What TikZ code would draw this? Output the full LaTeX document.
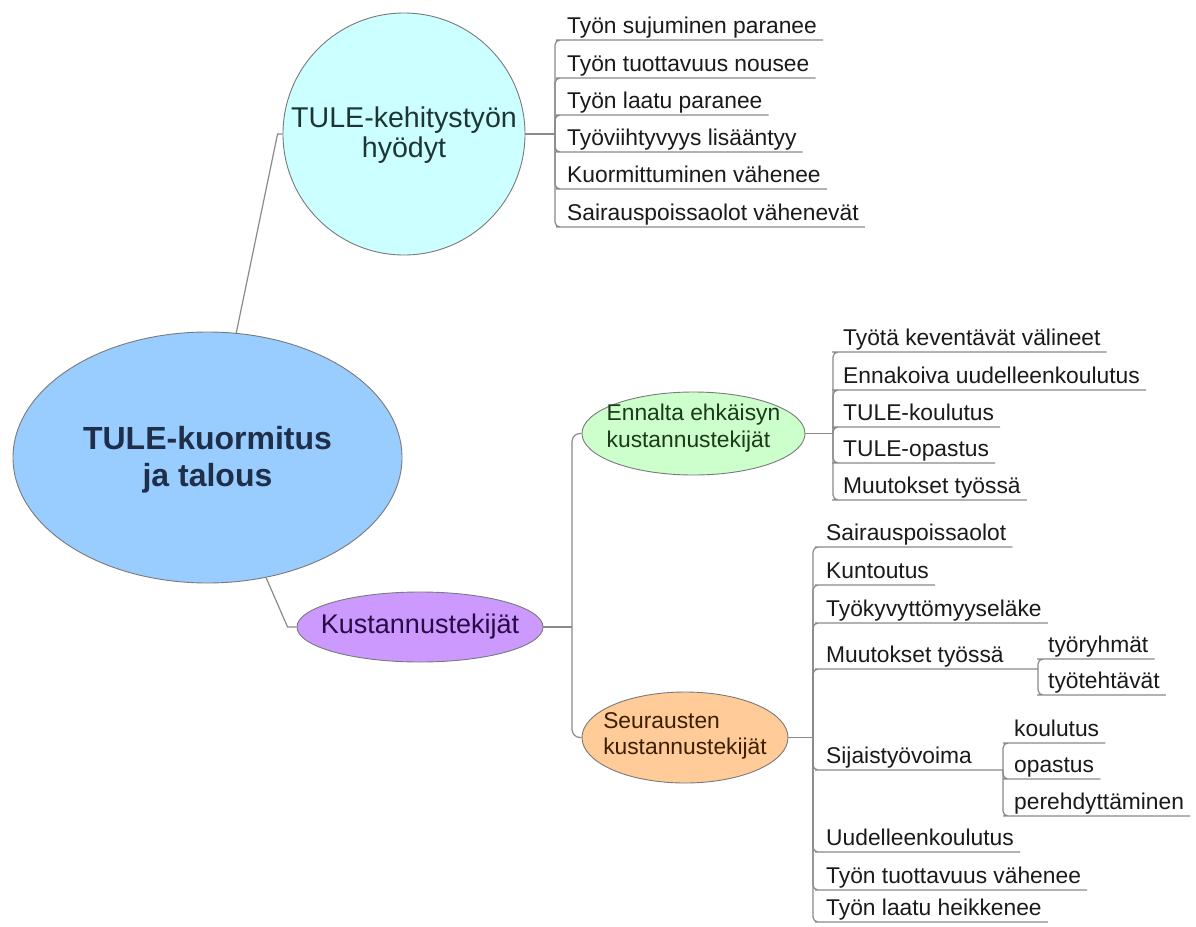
\documentclass[tikz,border=0pt]{standalone}
\usepackage{fontspec}
\setmainfont{Liberation Sans}
\usetikzlibrary{shapes.geometric}
\definecolor{lineg}{HTML}{8A8A8A}
\definecolor{bordg}{HTML}{7A7A7A}
\definecolor{mainfill}{HTML}{99CCFF}
\definecolor{maintext}{HTML}{1F2F4A}
\definecolor{circfill}{HTML}{CCFFFF}
\definecolor{circtext}{HTML}{1E3535}
\definecolor{kustfill}{HTML}{CC99FF}
\definecolor{kusttext}{HTML}{2A0A45}
\definecolor{ennfill}{HTML}{CCFFCC}
\definecolor{enntext}{HTML}{1A3A1A}
\definecolor{seufill}{HTML}{FFCC99}
\definecolor{seutext}{HTML}{3D1F00}
\definecolor{leaftext}{HTML}{1A1A1A}
\begin{document}
\begin{tikzpicture}[x=1pt,y=-1pt,
  conn/.style={draw=lineg, line width=1.2pt},
  bubble/.style={draw=bordg, line width=0.9pt, inner sep=0pt},
  leaf/.style={anchor=south west, inner xsep=6pt, inner ysep=0pt, text height=17pt, text depth=6.5pt, font=\fontsize{22.8}{26}\selectfont, text=leaftext}
]
\useasboundingbox (0,0) rectangle (1196,926);
\fill[white] (0,0) rectangle (1196,926);

% central bubbles
\node[bubble, ellipse, fill=mainfill, minimum width=389pt, minimum height=251pt,
  label={[name=mainlbl, align=center, yshift=-2pt, font=\bfseries\fontsize{32}{37}\selectfont, text=maintext]center:TULE-kuormitus\\ja talous}] (main) at (207.5,457.5) {};
\node[bubble, circle, fill=circfill, minimum size=242pt,
  label={[name=circlbl, align=center, yshift=-1pt, font=\fontsize{28.6}{30}\selectfont, text=circtext]center:TULE-kehitystyön\\hyödyt}] (circ) at (404,134) {};
\node[bubble, ellipse, fill=kustfill, minimum width=246pt, minimum height=70pt,
  label={[name=kustlbl, font=\fontsize{27}{30}\selectfont, text=kusttext]center:Kustannustekijät}] (kust) at (420,627) {};
\node[bubble, ellipse, fill=ennfill, minimum width=223pt, minimum height=83pt,
  label={[name=ennlbl, align=left, yshift=5pt, font=\fontsize{22.8}{27}\selectfont, text=enntext]center:Ennalta ehkäisyn\\kustannustekijät}] (enn) at (693.5,433.5) {};
\node[bubble, ellipse, fill=seufill, minimum width=206pt, minimum height=91pt,
  label={[name=seulbl, align=left, yshift=2pt, font=\fontsize{22.8}{26}\selectfont, text=seutext]center:Seurausten\\kustannustekijät}] (seu) at (685,737.5) {};

% main connectors
\draw[conn] (main.77) -- ([xshift=-5pt]circ.west) -- (circ.west);
\draw[conn] (main.-64) -- ([xshift=-9pt]kust.west) -- (kust.west);
\coordinate (k) at (572,627);
\draw[conn] (kust.east) -- (k);
\draw[conn, rounded corners=8pt] (k) |- (enn.west);
\draw[conn, rounded corners=8pt] (k) |- (seu.west);

% benefits
\coordinate (b1) at (555,134);
\draw[conn] (circ.east) -- (b1);
\node[leaf] (t1) at (561,40) {Työn sujuminen paranee};
\node[leaf] (t2) at (561,78) {Työn tuottavuus nousee};
\node[leaf] (t3) at (561,115) {Työn laatu paranee};
\node[leaf] (t4) at (561,152) {Työviihtyvyys lisääntyy};
\node[leaf] (t5) at (561,189) {Kuormittuminen vähenee};
\node[leaf] (t6) at (561,227) {Sairauspoissaolot vähenevät};
\foreach \n in {t1,t2,t3,t4,t5,t6}
  \draw[conn, rounded corners=5pt] (b1) |- (\n.south west) -- (\n.south east);

% prevention costs
\coordinate (b2) at (833,433.5);
\draw[conn] (enn.east) -- (b2);
\node[leaf] (e1) at (837,352) {Työtä keventävät välineet};
\node[leaf] (e2) at (837,390) {Ennakoiva uudelleenkoulutus};
\node[leaf] (e3) at (837,427) {TULE-koulutus};
\node[leaf] (e4) at (837,463) {TULE-opastus};
\node[leaf] (e5) at (837,500) {Muutokset työssä};
\foreach \n in {e1,e2,e3,e4,e5}
  \draw[conn, rounded corners=5pt] (b2) |- (\n.south west) -- (\n.south east);

% consequence costs
\coordinate (b3) at (813,737.5);
\draw[conn] (seu.east) -- (b3);
\node[leaf] (s1) at (820,547) {Sairauspoissaolot};
\node[leaf] (s2) at (820,585) {Kuntoutus};
\node[leaf] (s3) at (820,623) {Työkyvyttömyyseläke};
\node[leaf] (s4) at (820,669) {Muutokset työssä};
\node[leaf] (s5) at (820,770) {Sijaistyövoima};
\node[leaf] (s6) at (820,852) {Uudelleenkoulutus};
\node[leaf] (s7) at (820,890) {Työn tuottavuus vähenee};
\node[leaf] (s8) at (820,922) {Työn laatu heikkenee};
\foreach \n in {s1,s2,s3,s6,s7,s8}
  \draw[conn, rounded corners=5pt] (b3) |- (\n.south west) -- (\n.south east);

\coordinate (m4) at (1038,669);
\draw[conn, rounded corners=5pt] (b3) |- (s4.south west) -- (m4);
\node[leaf] (s4a) at (1042,659) {työryhmät};
\node[leaf] (s4b) at (1042,695) {työtehtävät};
\foreach \n in {s4a,s4b}
  \draw[conn, rounded corners=5pt] (m4) |- (\n.south west) -- (\n.south east);

\coordinate (m5) at (1003,770);
\draw[conn, rounded corners=5pt] (b3) |- (s5.south west) -- (m5);
\node[leaf] (s5a) at (1008,743) {koulutus};
\node[leaf] (s5b) at (1008,779) {opastus};
\node[leaf] (s5c) at (1008,816) {perehdyttäminen};
\foreach \n in {s5a,s5b,s5c}
  \draw[conn, rounded corners=5pt] (m5) |- (\n.south west) -- (\n.south east);
\end{tikzpicture}
\end{document}
